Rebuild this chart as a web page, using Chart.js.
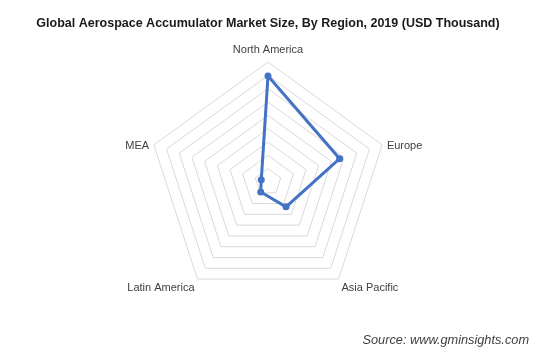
<!DOCTYPE html>
<html>
<head>
<meta charset="utf-8">
<script src="https://cdn.jsdelivr.net/npm/chart.js@4/dist/chart.umd.min.js"></script>
<style>
  html, body { margin: 0; padding: 0; background: #ffffff; }
  #wrap { width: 553px; height: 362px; }
</style>
</head>
<body>
<div id="wrap"><canvas id="myChart" width="553" height="362"></canvas></div>
<script>
const regions = ['North America', 'Europe', 'Asia Pacific', 'Latin America', 'MEA'];
const marketSize = [7950, 5650, 2300, 930, 530];
const scaleMax = 9000;
const scaleStep = 1000;

const labelFont = '11px "Liberation Sans", Arial, sans-serif';

// region names around the web, placed from the scale's own point positions
const regionLabels = {
    id: 'regionLabels',
    afterDraw(chart) {
        const scale = chart.scales.r;
        const c = chart.ctx;
        c.save();
        c.font = labelFont;
        c.fillStyle = '#404040';
        c.textBaseline = 'middle';
        regions.forEach((name, i) => {
            const p = scale.getPointPosition(i, scale.drawingArea + 5);
            const v = scale.getPointPosition(i, scale.drawingArea);
            const deg = Math.round(scale.getIndexAngle(i) * 180 / Math.PI) % 360;
            let y;
            if (deg === 0) {
                c.textAlign = 'center';
                y = p.y - 6.6;
            } else if (deg < 90) {
                c.textAlign = 'left';
                y = v.y + 1;
            } else if (deg < 180) {
                c.textAlign = 'left';
                y = p.y + 4.5;
            } else if (deg < 270) {
                c.textAlign = 'right';
                y = p.y + 4.5;
            } else {
                c.textAlign = 'right';
                y = v.y + 1;
            }
            c.fillText(name, p.x, y);
        });
        c.restore();
    }
};

// source note in the bottom right corner
const sourceNote = {
    id: 'sourceNote',
    afterDraw(chart) {
        const c = chart.ctx;
        c.save();
        c.font = 'italic 12.75px "Liberation Sans", Arial, sans-serif';
        c.fillStyle = '#404040';
        c.textAlign = 'right';
        c.textBaseline = 'middle';
        c.fillText('Source: www.gminsights.com', 529, 340);
        c.restore();
    }
};

const ctx = document.getElementById('myChart').getContext('2d');
const myChart = new Chart(ctx, {
    type: 'radar',
    data: {
        labels: regions,
        datasets: [{
            label: 'Market Size',
            data: marketSize,
            borderColor: '#4472c4',
            backgroundColor: '#4472c4',
            borderWidth: 3,
            pointRadius: 3.5,
            pointBackgroundColor: '#4472c4',
            pointBorderWidth: 0,
            fill: false,
        }]
    },
    options: {
        responsive: false,
        animation: false,
        layout: {
            padding: { left: 0, right: 17, top: 0, bottom: 60 }
        },
        plugins: {
            legend: { display: false },
            tooltip: { enabled: false },
            title: {
                display: true,
                text: 'Global Aerospace Accumulator Market Size, By Region, 2019 (USD Thousand)',
                color: '#1a1a1a',
                font: { family: '"Liberation Sans", Arial, sans-serif', size: 12.5, weight: 'bold' },
                padding: { top: 16, bottom: 31 }
            }
        },
        scales: {
            r: {
                min: 0,
                max: scaleMax,
                ticks: { display: false, stepSize: scaleStep },
                angleLines: { display: false },
                grid: { color: '#d9d9d9', lineWidth: 1 },
                pointLabels: { display: false }
            }
        }
    },
    plugins: [regionLabels, sourceNote]
});
</script>
</body>
</html>
